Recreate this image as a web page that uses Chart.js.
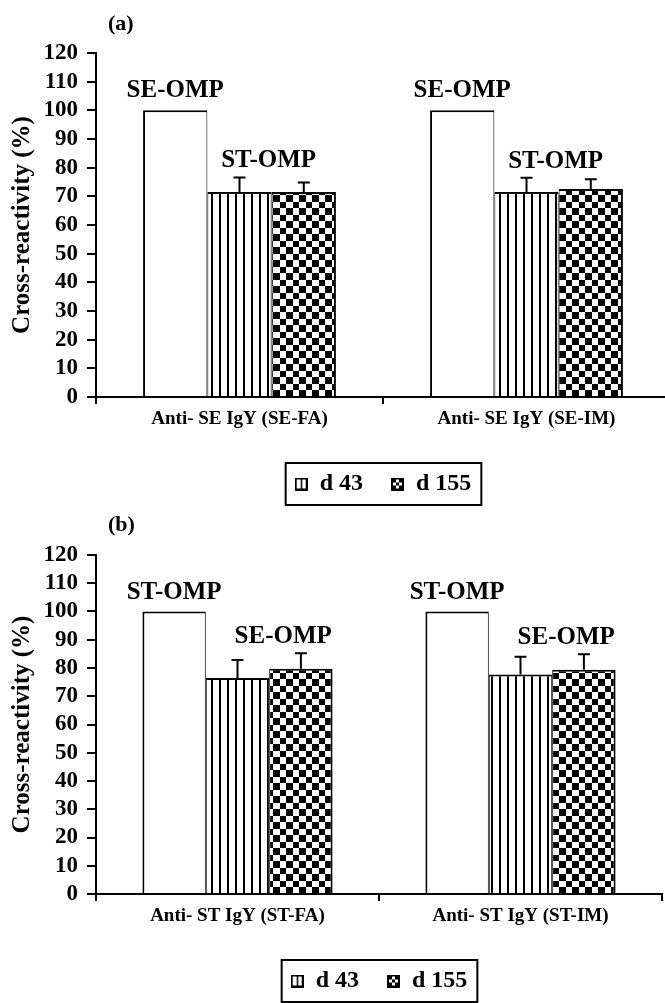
<!DOCTYPE html>
<html><head><meta charset="utf-8">
<script src="https://cdn.jsdelivr.net/npm/chart.js@4"></script>
<style>
html,body{margin:0;padding:0;background:#fff;overflow:hidden;width:665px;height:1003px}
.panel{position:relative;width:672px;overflow:hidden}
canvas{display:block}
</style></head><body>
<div class="panel" style="height:510px"><canvas id="ca" width="672" height="510"></canvas></div>
<div class="panel" style="height:493px"><canvas id="cb" width="665" height="493"></canvas></div>
<script>
// ---- data ----
const categoriesA = ['Anti- SE IgY (SE-FA)', 'Anti- SE IgY (SE-IM)'];
const refA = [100, 100];
const d43A = [71.5, 71.5];
const d43ErrA = [5.1, 5.0];
const d155A = [71.5, 72.6];
const d155ErrA = [3.3, 3.4];
const homologousA = ['SE-OMP', 'SE-OMP'];
const heterologousA = ['ST-OMP', 'ST-OMP'];

const categoriesB = ['Anti- ST IgY (ST-FA)', 'Anti- ST IgY (ST-IM)'];
const refB = [100, 100];
const d43B = [76.5, 77.7];
const d43ErrB = [6.3, 6.3];
const d155B = [79.7, 79.4];
const d155ErrB = [5.5, 5.5];
const homologousB = ['ST-OMP', 'ST-OMP'];
const heterologousB = ['SE-OMP', 'SE-OMP'];

const seriesNames = ['100%', 'd 43', 'd 155'];
const yTicks = {min: 0, max: 120, step: 10};
const yTitle = 'Cross-reactivity (%)';

// ---- styles ----
const SERIF = "'Liberation Serif','Times New Roman',serif";
function mk(w, h, fn) { const c = document.createElement('canvas'); c.width = w; c.height = h; const x = c.getContext('2d'); fn(x); return c; }
const stripeTile = mk(8, 8, x => { x.fillStyle = '#fff'; x.fillRect(0,0,8,8); x.fillStyle = '#000'; x.fillRect(3,0,2,8); });
const checkTile = mk(13, 13, x => { x.fillStyle = '#fff'; x.fillRect(0,0,13,13); x.fillStyle = '#000'; x.fillRect(0,0,7,7); x.fillRect(7,7,6,6); });
const pctx = document.createElement('canvas').getContext('2d');
const stripePattern = pctx.createPattern(stripeTile, 'repeat');
const checkPattern = pctx.createPattern(checkTile, 'repeat');
const iconStripe = mk(13, 13, x => { x.fillStyle = '#fff'; x.fillRect(0,0,13,13); x.strokeStyle = '#000'; x.lineWidth = 2; x.strokeRect(1,1,11,11); x.fillStyle = '#000'; x.fillRect(6,1,1.5,11); });
const iconCheck = mk(13, 13, x => { x.fillStyle = '#000'; x.fillRect(0,0,13,13); x.fillStyle = '#fff'; x.fillRect(5,2,3,3); x.fillRect(2,5,3,3); x.fillRect(8,5,3,3); x.fillRect(5,8,3,3); });

const ompPlugin = {
  id: 'omp',
  afterDatasetsDraw(chart, args, opts) {
    const ctx = chart.ctx, y = chart.scales.y;
    ctx.save();
    // error bars
    opts.errors.forEach((errs, di) => {
      if (!errs) return;
      const meta = chart.getDatasetMeta(di);
      meta.data.forEach((bar, i) => {
        const v = chart.data.datasets[di].data[i];
        const top = y.getPixelForValue(v + errs[i]);
        ctx.strokeStyle = '#000'; ctx.lineWidth = 2;
        ctx.beginPath();
        ctx.moveTo(bar.x, bar.y); ctx.lineTo(bar.x, top);
        ctx.moveTo(bar.x - 6, top); ctx.lineTo(bar.x + 6, top);
        ctx.stroke();
      });
    });
    // labels
    ctx.fillStyle = '#000';
    ctx.font = 'bold 25px ' + SERIF;
    ctx.textAlign = 'center'; ctx.textBaseline = 'alphabetic';
    const m0 = chart.getDatasetMeta(0), m1 = chart.getDatasetMeta(1), m2 = chart.getDatasetMeta(2);
    m0.data.forEach((bar, i) => {
      ctx.fillText(opts.homologous[i], bar.x, bar.y - opts.gapTop);
      const b1 = m1.data[i], b2 = m2.data[i];
      const bx = (b1.x + b1.width / 2 + b2.x - b2.width / 2) / 2;
      const t1 = y.getPixelForValue(chart.data.datasets[1].data[i] + opts.errors[1][i]);
      const t2 = y.getPixelForValue(chart.data.datasets[2].data[i] + opts.errors[2][i]);
      ctx.fillText(opts.heterologous[i], bx + opts.sideShift, Math.min(t1, t2) - opts.gapSide);
    });
    // panel letter
    ctx.font = 'bold 22px ' + SERIF;
    ctx.textAlign = 'left';
    ctx.fillText(opts.letter, chart.chartArea.left + 12, opts.letterY);
    ctx.restore();
  },
  afterDraw(chart) {
    const lg = chart.legend;
    if (!lg || !lg.legendHitBoxes || !lg.legendHitBoxes.length) return;
    const hb = lg.legendHitBoxes;
    const l = hb[0].left - 9, r = hb[hb.length-1].left + hb[hb.length-1].width + 10;
    const cy = hb[0].top + hb[0].height / 2;
    const ctx = chart.ctx;
    ctx.save(); ctx.strokeStyle = '#000'; ctx.lineWidth = 2;
    ctx.strokeRect(l, cy - 21, r - l, 42);
    ctx.restore();
  }
};

function makeChart(id, cats, ref, d43, d43Err, d155, d155Err, homo, hetero, letter, extra) {
  const bw = (l, r) => ({top: 2, left: l, right: r, bottom: 0});
  return new Chart(document.getElementById(id), {
    type: 'bar',
    data: {
      labels: cats,
      datasets: [
        {label: seriesNames[0], data: ref, backgroundColor: '#fff', borderColor: '#000', borderWidth: bw(2, 1)},
        {label: seriesNames[1], data: d43, backgroundColor: stripePattern, borderColor: '#000', borderWidth: bw(1, 1)},
        {label: seriesNames[2], data: d155, backgroundColor: checkPattern, borderColor: '#000', borderWidth: bw(1, 2)}
      ]
    },
    plugins: [ompPlugin],
    options: {
      responsive: false, animation: false, devicePixelRatio: 1,
      datasets: {bar: {barPercentage: 1, categoryPercentage: 0.672, inflateAmount: 0}},
      layout: {padding: {top: extra.top, right: extra.right, bottom: extra.bottom, left: 0}},
      scales: {
        x: {
          ticks: {color: '#000', font: {family: SERIF, size: 19, weight: 'bold'}, padding: 4, maxRotation: 0, autoSkip: false},
          grid: {display: true, drawOnChartArea: false, drawTicks: true, tickLength: 7, color: '#000', lineWidth: 2, offset: true},
          border: {display: true, color: '#000', width: 2},
          afterFit(s) { s.height = extra.xh; }
        },
        y: {
          min: yTicks.min, max: yTicks.max,
          ticks: {stepSize: yTicks.step, autoSkip: false, color: '#000', font: {family: SERIF, size: 23, weight: 'bold'}, padding: 9},
          grid: {display: true, drawOnChartArea: false, drawTicks: true, tickLength: 9, color: '#000', lineWidth: 2},
          border: {display: true, color: '#000', width: 2},
          title: {display: true, text: yTitle, color: '#000', font: {family: SERIF, size: 25, weight: 'bold'}, padding: {top: 8, bottom: 0}},
          afterFit(s) { s.width = 96; }
        }
      },
      plugins: {
        tooltip: {enabled: false},
        legend: {
          position: 'bottom', fullSize: false,
          labels: {
            usePointStyle: true, boxWidth: 13, boxHeight: 13, padding: 28, color: '#000',
            font: {family: SERIF, size: 24, weight: 'bold'},
            generateLabels(chart) {
              const icons = [null, iconStripe, iconCheck];
              return [1, 2].map(i => ({text: chart.data.datasets[i].label, pointStyle: icons[i], fillStyle: '#000', strokeStyle: '#000', lineWidth: 0, hidden: false, datasetIndex: i, fontColor: '#000'}));
            }
          }
        },
        omp: {errors: [null, d43Err, d155Err], homologous: homo, heterologous: hetero, gapTop: 13, gapSide: 10, sideShift: extra.shift, letter: letter, letterY: extra.letterY}
      }
    }
  });
}

makeChart('ca', categoriesA, refA, d43A, d43ErrA, d155A, d155ErrA, homologousA, heterologousA, '(a)',
  {top: 53, right: 2, bottom: 4, xh: 47, shift: -3, letterY: 30});
makeChart('cb', categoriesB, refB, d43B, d43ErrB, d155B, d155ErrB, homologousB, heterologousB, '(b)',
  {top: 45, right: 3, bottom: 0, xh: 47, shift: 14, letterY: 21});
</script>
</body></html>
